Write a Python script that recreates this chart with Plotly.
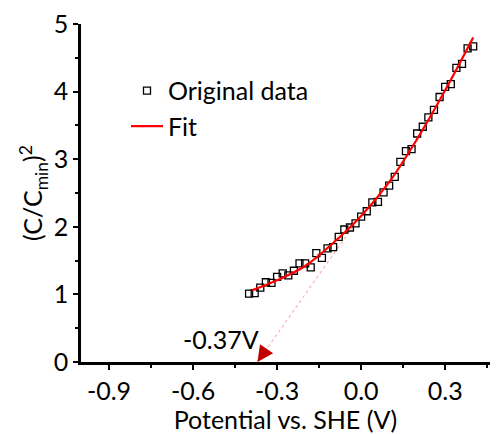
import plotly.graph_objects as go

# Original data (potential V vs SHE, (C/Cmin)^2)
x_data = [-0.40, -0.38, -0.36, -0.34, -0.32, -0.30, -0.28, -0.26, -0.24, -0.22,
          -0.20, -0.18, -0.16, -0.14, -0.12, -0.10, -0.08, -0.06, -0.04, -0.02,
          0.00, 0.02, 0.04, 0.06, 0.08, 0.10, 0.12, 0.14, 0.16, 0.18,
          0.20, 0.22, 0.24, 0.26, 0.28, 0.30, 0.32, 0.34, 0.36, 0.38, 0.40]
y_data = [1.01, 1.02, 1.10, 1.18, 1.17, 1.26, 1.31, 1.28, 1.35, 1.46,
          1.46, 1.40, 1.61, 1.54, 1.68, 1.70, 1.85, 1.96, 1.99, 2.05,
          2.15, 2.23, 2.36, 2.37, 2.51, 2.61, 2.74, 2.96, 3.12, 3.15,
          3.38, 3.48, 3.62, 3.73, 3.92, 4.07, 4.11, 4.35, 4.41, 4.64, 4.67]

# Fit curve
x_fit = [-0.39, -0.30, -0.20, -0.10, 0.00, 0.10, 0.20, 0.30, 0.40]
y_fit = [1.06, 1.21, 1.42, 1.76, 2.16, 2.66, 3.30, 4.02, 4.80]

# Extrapolation line
x_ext = [-0.03, -0.37]
y_ext = [2.00, 0.00]
intercept_label = "-0.37V"

x_ticks = [-0.9, -0.6, -0.3, 0.0, 0.3]
x_ticklabels = ["-0.9", "-0.6", "-0.3", "0.0", "0.3"]
y_ticks = [0, 1, 2, 3, 4, 5]

FONT = "Lato"
FS = 25

fig = go.Figure()
fig.add_trace(go.Scatter(x=x_ext, y=y_ext, mode="lines",
                         line=dict(color="#f6b4b4", width=1.2, dash="dot"),
                         showlegend=False, hoverinfo="skip"))
fig.add_trace(go.Scatter(x=x_data, y=y_data, mode="markers", name="Original data",
                         marker=dict(symbol="square-open", size=7, color="black",
                                     line=dict(width=1.3, color="black"))))
fig.add_trace(go.Scatter(x=x_fit, y=y_fit, mode="lines", name="Fit",
                         line=dict(color="#ff0000", width=2.2, shape="spline")))

fig.add_annotation(x=x_ext[1], y=y_ext[1], ax=x_ext[1] + 0.03, ay=y_ext[1] + 0.18,
                   xref="x", yref="y", axref="x", ayref="y", text="",
                   showarrow=True, arrowhead=2, arrowsize=1.6, arrowwidth=2,
                   arrowcolor="#c00000", standoff=0)
fig.add_annotation(x=-0.50, y=0.34, text=intercept_label, showarrow=False,
                   font=dict(family=FONT, size=FS, color="black"))

axis_common = dict(showline=True, linecolor="black", linewidth=2.5, ticks="outside",
                   ticklen=5, tickwidth=2, tickcolor="black", showgrid=False,
                   zeroline=False, mirror=False,
                   tickfont=dict(family=FONT, size=FS, color="black"))

fig.update_xaxes(range=[-1.0, 0.46], tickvals=x_ticks, ticktext=x_ticklabels,
                 title=dict(text="Potential vs. SHE (V)", font=dict(family=FONT, size=FS, color="black"),
                            standoff=2),
                 minor=dict(dtick=0.15, tick0=-0.9, ticks="outside", ticklen=3, tickwidth=1.5, tickcolor="black"),
                 **axis_common)
fig.update_yaxes(range=[0, 5], tickvals=y_ticks,
                 title=dict(text="(C/C<sub>min</sub>)<sup>2</sup>", font=dict(family=FONT, size=FS, color="black"),
                            standoff=4),
                 minor=dict(dtick=0.5, tick0=0, ticks="outside", ticklen=3, tickwidth=1.5, tickcolor="black"),
                 **axis_common)

fig.update_layout(width=498, height=434, margin=dict(l=81, r=8, t=24, b=72),
                  plot_bgcolor="white", paper_bgcolor="white",
                  legend=dict(x=0.11, y=0.87, xanchor="left", yanchor="top",
                              bgcolor="rgba(0,0,0,0)", font=dict(family=FONT, size=FS, color="black"),
                              itemwidth=32, tracegroupgap=0),
                  font=dict(family=FONT))

fig.write_html("out.html")
